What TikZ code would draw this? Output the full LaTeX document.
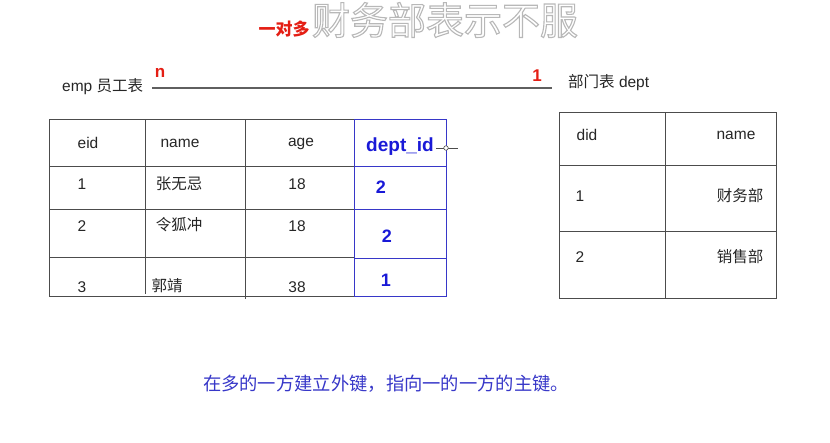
\documentclass[tikz,border=0pt]{standalone}
\usepackage{fontspec}
\setmainfont{Liberation Sans}
\newfontfamily\cjk{Noto Sans CJK SC}
\definecolor{tblue}{RGB}{25,25,215}
\definecolor{bblue}{RGB}{55,55,200}
\definecolor{tred}{RGB}{228,30,20}
\definecolor{lgray}{RGB}{95,95,95}
\begin{document}
\begin{tikzpicture}[x=1pt,y=-1pt,
  txt/.style={inner sep=0pt,font=\fontsize{15.5}{15.5}\selectfont,text=black!85},
  ctxt/.style={inner sep=0pt,font=\cjk\fontsize{15.5}{15.5}\selectfont,text=black!85},
  bdig/.style={inner sep=0pt,font=\bfseries\fontsize{18}{18}\selectfont,text=tblue},
  rdig/.style={inner sep=0pt,font=\bfseries\fontsize{17}{17}\selectfont,text=tred},
  grid/.style={draw=black!70,line width=1pt},
  bgrid/.style={draw=bblue,line width=1pt}]
\useasboundingbox (0,0) rectangle (830,443);
% titles
\node[inner sep=0pt,font=\cjk\bfseries\fontsize{17}{17}\selectfont,text=tred] (t1) at (284,29) {一对多};
\node[inner sep=0pt,font=\cjk\fontsize{38}{38}\selectfont,text=white] (t2) at (445,20) {\special{pdf:literal 2 Tr 0.72 G 1.1 w}财务部表示不服\special{pdf:literal 0 Tr}};
% relation line
\node[txt,anchor=west] (emp) at (62,87) {emp {\cjk 员工表}};
\node[txt,anchor=west] (dept) at (568,83) {{\cjk 部门表} dept};
\coordinate (la) at (152,88);
\coordinate (lb) at (552,88);
\draw[lgray,line width=1.4pt] (la) -- (lb);
\node[rdig] (n) at (160,73) {n};
\node[rdig] (one) at (537,76) {1};
% left table
\draw[grid] (49,120) rectangle (354,297);
\draw[grid] (49,167) -- (354,167) (49,210) -- (354,210) (49,258) -- (354,258);
\draw[grid] (145,120) -- (145,294) (245,120) -- (245,299);
\draw[bgrid] (354,120) rectangle (446,297);
\draw[bgrid] (354,167) -- (446,167) (354,210) -- (446,210) (354,259) -- (446,259);
\node[txt] (h1) at (88,143) {eid};
\node[txt] (h2) at (180,143) {name};
\node[txt] (h3) at (301,144) {age};
\node[inner sep=0pt,font=\bfseries\fontsize{19}{19}\selectfont,text=tblue] (h4) at (400,147) {dept\_id};
\coordinate (hk1) at (436,148);
\coordinate (hk2) at (458,148);
\draw[black!70,line width=0.6pt] (hk1) -- (hk2);
\node[circle,draw=black!70,line width=0.6pt,fill=white,minimum size=4.5pt,inner sep=0pt] (hc) at (446,148) {};
\node[txt] (r11) at (82,184) {1};
\node[ctxt] (r12) at (179,184) {张无忌};
\node[txt] (r13) at (297,184) {18};
\node[bdig] (r14) at (381,187) {2};
\node[txt] (r21) at (82,226) {2};
\node[ctxt] (r22) at (179,225) {令狐冲};
\node[txt] (r23) at (297,226) {18};
\node[bdig] (r24) at (387,236) {2};
\node[txt] (r31) at (82,287) {3};
\node[ctxt] (r32) at (167,286) {郭靖};
\node[txt] (r33) at (297,287) {38};
\node[bdig] (r34) at (386,280) {1};
% right table
\draw[grid] (559,113) rectangle (776,299);
\draw[grid] (559,166) -- (776,166) (559,232) -- (776,232) (665,113) -- (665,299);
\node[txt] (d1) at (587,135) {did};
\node[txt] (d2) at (736,135) {name};
\node[txt] (d11) at (580,196) {1};
\node[ctxt] (d12) at (740,196) {财务部};
\node[txt] (d21) at (580,257) {2};
\node[ctxt] (d22) at (740,257) {销售部};
% bottom note
\node[inner sep=0pt,font=\cjk\fontsize{18.3}{18.3}\selectfont,text=bblue] (note) at (386,384) {在多的一方建立外键，指向一的一方的主键。};
\end{tikzpicture}
\end{document}
